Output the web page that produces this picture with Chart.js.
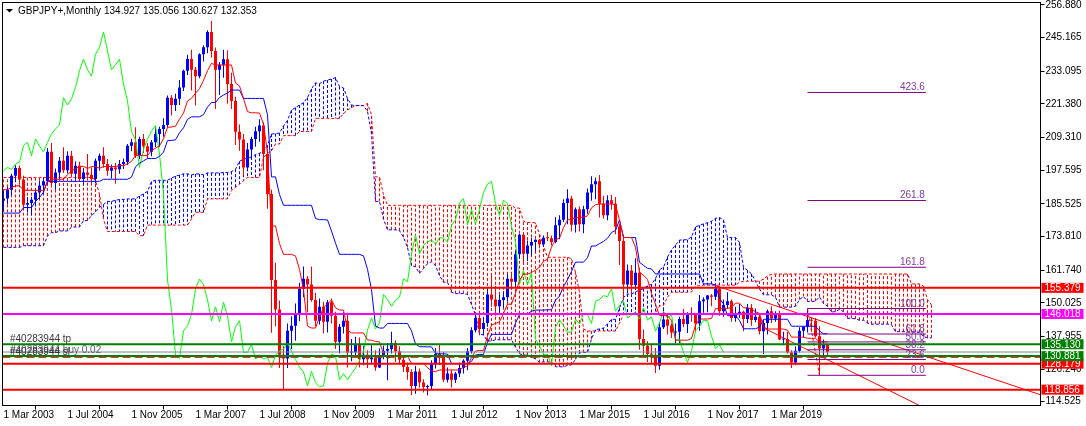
<!DOCTYPE html>
<html>
<head>
<meta charset="utf-8">
<script src="https://cdn.jsdelivr.net/npm/chart.js@4.4.1/dist/chart.umd.min.js"></script>
<style>
html, body { margin: 0; padding: 0; background: #fff; }
canvas { display: block; }
</style>
</head>
<body>
<canvas id="chart" width="1086" height="426"></canvas>
<script>
// monthly bars, index 0 = Mar 2003, last = May 2020
const opens = [
  186.6, 187.4, 190.6, 195.6, 198.4, 194.3, 185.2, 185.8, 187.0, 189.6,
  192.1, 193.6, 204.2, 193.0, 196.8, 201.0, 197.6, 202.8, 196.3, 199.2, 194.4, 196.8,
  196.0, 194.4, 201.0, 202.8, 199.8, 197.4, 198.6, 197.9, 199.8, 200.5, 206.4, 207.6,
  202.8, 208.8, 206.2, 204.2, 207.6, 210.6, 212.4, 213.8, 223.6, 221.0, 223.2, 227.3,
  233.3, 237.5, 233.6, 231.3, 239.2, 241.7, 247.2, 240.4, 233.6, 235.4, 237.4, 228.5,
  222.4, 211.4, 208.6, 198.6, 205.0, 208.8, 211.6, 213.6, 203.4, 189.1, 158.2, 147.6,
  131.4, 130.0, 140.0, 141.8, 145.8, 155.0, 158.6, 156.6, 151.0, 143.6, 148.6, 143.2,
  150.2, 145.4, 136.0, 141.4, 143.6, 132.2, 132.3, 135.0, 129.8, 131.4, 129.8, 130.4,
  126.8, 131.1, 132.8, 133.4, 135.6, 132.6, 129.6, 127.0, 125.2, 120.2, 125.4, 121.4,
  119.8, 120.2, 128.4, 131.6, 130.9, 122.4, 124.6, 122.4, 124.6, 126.6, 129.2, 132.6,
  140.2, 144.6, 140.6, 142.8, 153.0, 151.2, 148.8, 151.0, 152.0, 158.6, 157.6, 167.4,
  174.4, 167.6, 170.6, 171.8, 172.6, 171.0, 173.4, 173.2, 171.8, 177.8, 179.8, 185.8,
  187.4, 178.0, 183.6, 178.2, 183.6, 189.6, 192.6, 193.6, 185.6, 181.4, 186.8, 185.6,
  177.4, 172.2, 156.6, 161.6, 156.4, 160.8, 137.0, 134.6, 131.6, 131.4, 127.4, 141.2,
  144.0, 141.8, 139.4, 139.6, 144.2, 142.4, 146.0, 145.8, 142.6, 150.6, 151.2, 152.6,
  152.2, 155.0, 147.0, 149.2, 150.6, 144.6, 145.6, 146.8, 144.2, 148.2, 143.8, 145.0,
  139.8, 142.8, 147.0, 144.4, 145.8, 136.8, 137.0, 132.2, 128.6, 132.8, 140.0, 141.4,
  143.8, 143.6, 138.0, 133.6, 134.927
];
const highs = [
  190.3, 191.6, 196.3, 199.4, 199.3, 195.6, 188.0, 188.1, 190.4, 193.8,
  195.0, 205.6, 207.4, 198.2, 202.3, 205.8, 204.4, 204.6, 200.8, 200.6, 198.5, 203.4,
  198.6, 201.8, 203.6, 205.8, 201.6, 199.6, 200.2, 201.3, 201.8, 207.0, 208.9, 213.0,
  209.6, 210.6, 207.4, 208.4, 213.0, 213.2, 216.2, 224.4, 224.6, 225.0, 230.0, 233.6,
  239.0, 240.8, 234.6, 239.6, 242.4, 247.8, 251.1, 241.6, 236.4, 240.8, 240.6, 232.6,
  224.0, 214.0, 210.6, 207.4, 209.6, 213.2, 215.9, 214.8, 205.2, 190.6, 164.4, 150.8,
  134.4, 142.6, 145.2, 149.8, 157.2, 163.0, 159.6, 163.0, 153.6, 151.6, 150.4, 151.0,
  151.6, 146.8, 142.4, 146.6, 146.4, 137.0, 137.8, 137.6, 134.6, 133.0, 134.8, 133.0,
  133.6, 134.6, 135.6, 139.6, 136.6, 134.4, 130.6, 128.6, 126.2, 127.4, 126.4, 122.6,
  120.6, 129.4, 133.8, 135.0, 132.4, 126.8, 126.0, 125.2, 128.6, 129.8, 133.8, 141.2,
  145.8, 146.2, 145.0, 155.0, 160.6, 156.0, 153.0, 154.2, 160.4, 160.2, 168.6, 174.8,
  175.2, 172.4, 173.4, 172.8, 173.0, 174.2, 175.4, 174.2, 180.8, 181.4, 187.2, 190.8,
  188.4, 184.2, 184.6, 184.8, 191.0, 195.4, 195.0, 195.9, 188.4, 188.6, 188.8, 188.0,
  178.4, 174.4, 163.8, 163.6, 166.0, 162.6, 140.4, 136.2, 135.4, 133.8, 143.0, 148.4,
  146.2, 142.6, 142.6, 145.0, 147.8, 146.6, 148.4, 146.0, 152.8, 152.0, 152.8, 153.2,
  156.6, 155.8, 151.2, 153.8, 151.2, 148.6, 149.6, 147.2, 149.6, 149.6, 148.0, 145.6,
  143.8, 147.6, 148.8, 147.0, 147.2, 139.6, 139.6, 133.0, 134.4, 141.2, 141.6, 147.96,
  144.8, 144.6, 141.6, 136.8, 135.056
];
const lows = [
  182.9, 185.4, 188.6, 193.4, 192.6, 184.2, 182.4, 181.3, 184.6, 187.3,
  188.9, 192.6, 192.2, 190.6, 194.4, 196.6, 196.4, 195.2, 194.3, 193.6, 192.0, 194.9,
  193.0, 192.8, 197.4, 198.5, 195.6, 194.6, 192.7, 196.3, 198.0, 199.5, 204.4, 202.0,
  201.6, 203.8, 201.8, 202.6, 205.9, 206.0, 209.6, 213.0, 217.2, 218.8, 221.0, 226.0,
  231.8, 226.2, 220.8, 230.6, 236.6, 239.6, 238.0, 219.6, 224.6, 230.8, 221.4, 219.6,
  206.6, 204.6, 195.6, 197.2, 201.8, 206.0, 207.8, 197.6, 183.8, 139.3, 141.6, 126.6,
  118.9, 126.6, 133.4, 136.4, 143.4, 152.0, 146.6, 150.4, 141.6, 142.2, 139.0, 139.4,
  142.6, 133.4, 131.8, 139.0, 126.8, 129.0, 131.0, 126.8, 127.6, 126.6, 128.0, 125.6,
  126.6, 129.8, 122.2, 131.8, 128.8, 128.0, 125.2, 122.4, 116.9, 117.4, 119.6, 117.8,
  116.8, 118.8, 126.4, 127.8, 121.6, 121.4, 119.6, 121.2, 123.4, 124.6, 125.8, 131.8,
  139.4, 138.4, 138.4, 141.4, 148.6, 145.4, 146.6, 148.2, 150.4, 154.6, 156.0, 165.8,
  164.6, 165.0, 166.8, 168.6, 169.6, 170.0, 172.2, 170.6, 171.4, 172.8, 179.0, 178.2,
  175.6, 175.2, 175.6, 175.0, 182.0, 186.6, 187.2, 180.6, 180.2, 179.6, 183.4, 174.6,
  163.6, 151.0, 153.4, 152.8, 154.6, 133.2, 131.0, 128.8, 128.4, 124.8, 126.0, 140.6,
  138.6, 137.4, 135.6, 135.6, 141.2, 139.2, 143.2, 139.4, 140.0, 146.4, 146.6, 148.8,
  151.0, 145.4, 145.0, 148.0, 143.2, 143.2, 144.6, 139.8, 142.8, 141.8, 143.0, 138.6,
  131.6, 138.6, 142.8, 143.2, 136.6, 134.8, 131.8, 126.6, 127.6, 132.2, 137.6, 139.4,
  139.6, 137.6, 124.0, 130.8, 130.627
];
const closes = [
  187.4, 190.6, 195.6, 198.4, 194.3, 185.2, 185.8, 187.0, 189.6, 192.1,
  193.6, 204.2, 193.0, 196.8, 201.0, 197.6, 202.8, 196.3, 199.2, 194.4, 196.8, 196.0,
  194.4, 201.0, 202.8, 199.8, 197.4, 198.6, 197.9, 199.8, 200.5, 206.4, 207.6, 202.8,
  208.8, 206.2, 204.2, 207.6, 210.6, 212.4, 213.8, 223.6, 221.0, 223.2, 227.3, 233.3,
  237.5, 233.6, 231.3, 239.2, 241.7, 247.2, 240.4, 233.6, 235.4, 237.4, 228.5, 222.4,
  211.4, 208.6, 198.6, 205.0, 208.8, 211.6, 213.6, 203.4, 189.1, 158.2, 147.6, 131.4,
  130.0, 140.0, 141.8, 145.8, 155.0, 158.6, 156.6, 151.0, 143.6, 148.6, 143.2, 150.2,
  145.4, 136.0, 141.4, 143.6, 132.2, 132.3, 135.0, 129.8, 131.4, 129.8, 130.4, 126.8,
  131.1, 132.8, 133.4, 135.6, 132.6, 129.6, 127.0, 125.2, 120.2, 125.4, 121.4, 119.8,
  120.2, 128.4, 131.6, 130.9, 122.4, 124.6, 122.4, 124.6, 126.6, 129.2, 132.6, 140.2,
  144.6, 140.6, 142.8, 153.0, 151.2, 148.8, 151.0, 152.0, 158.6, 157.6, 167.4, 174.4,
  167.6, 170.6, 171.8, 172.6, 171.0, 173.4, 173.2, 171.8, 177.8, 179.8, 185.8, 187.4,
  178.0, 183.6, 178.2, 183.6, 189.6, 192.6, 193.6, 185.6, 181.4, 186.8, 185.6, 177.4,
  172.2, 156.6, 161.6, 156.4, 160.8, 137.0, 134.6, 131.6, 131.4, 127.4, 141.2, 144.0,
  141.8, 139.4, 139.6, 144.2, 142.4, 146.0, 145.8, 142.6, 150.6, 151.2, 152.6, 152.2,
  155.0, 147.0, 149.2, 150.6, 144.6, 145.6, 146.8, 144.2, 148.2, 143.8, 145.0, 139.8,
  142.8, 147.0, 144.4, 145.8, 136.8, 137.0, 132.2, 128.6, 132.8, 140.0, 141.4, 143.8,
  143.6, 138.0, 133.6, 134.927, 132.353
];

const tenkanEarly = [190.6, 190.6, 191.4, 192.0, 192.0, 190.4, 190.4, 190.4];
const kijunEarly = [182.2, 182.2, 182.2, 182.2, 182.2, 184.2, 184.2, 184.2, 186.4, 187.8,
  189.7, 193.6, 193.6, 193.6, 193.6, 193.6, 193.6, 193.6, 193.6, 193.6, 193.6, 193.6,
  193.6, 193.6, 193.6];
const spanAEarly = [169.9, 169.9, 169.9, 169.9, 169.9, 170.5, 170.5, 170.5, 170.5, 170.5,
  170.5, 174.0, 175.2, 175.2, 175.8, 175.8, 175.8, 177.2, 177.2, 177.2, 179.5, 179.5,
  181.3, 182.6, 184.3, 185.3];
const spanBEarly = [195.0, 195.0, 195.0, 195.0, 195.0, 195.0, 195.0, 195.0, 195.0, 195.0,
  195.0, 195.0, 195.0, 195.0, 195.0, 195.0, 195.0, 195.0, 195.0, 195.0, 195.0, 195.0,
  195.0, 194.0, 189.0, 180.0, 175.6, 175.6, 175.6, 175.6, 175.6, 175.6, 175.6, 175.6,
  174.1, 174.1, 177.9, 177.9, 177.9, 177.9, 177.9, 177.9, 177.9, 177.9, 177.9, 177.9,
  177.9, 180.1, 182.5, 182.5, 182.5, 187.3, 187.3, 187.3, 187.3, 187.3, 187.3, 190.3,
  191.5, 192.6, 193.8, 195.0, 195.0, 195.0, 195.0, 202.2, 203.6, 204.6, 207.0, 207.0,
  210.0, 210.0, 210.0, 210.0, 211.5, 211.5, 211.5, 211.5];

const yTicks = [256.880, 245.165, 233.095, 221.380, 209.310, 197.595, 185.525, 173.810,
  161.740, 150.025, 137.955, 126.240, 114.525];
const xTickIdx = [0, 16, 32, 48, 64, 80, 96, 112, 128, 144, 160, 176, 192];
const xTickLabels = ['1 Mar 2003', '1 Jul 2004', '1 Nov 2005', '1 Mar 2007', '1 Jul 2008',
  '1 Nov 2009', '1 Mar 2011', '1 Jul 2012', '1 Nov 2013', '1 Mar 2015', '1 Jul 2016',
  '1 Nov 2017', '1 Mar 2019'];

const hLevels = [118.856, 128.179, 130.881, 135.130, 146.018, 155.379];
const hColors = ['#ff0000', '#ff0000', '#008000', '#008000', '#ff00ff', '#ff0000'];
const bidPrice = 132.353;
const slPrice = 130.45;

const fibRatios = [0, 0.236, 0.382, 0.5, 0.618, 1, 1.618, 2.618, 4.236];
const fibLabels = ['0.0', '23.6', '38.2', '50.0', '61.8', '100.0', '161.8', '261.8', '423.6'];
const fibX = [201, 204];
const fibY = [147.96, 124.0];
const fibEndX = 230.6;

const trendA = [[178, 156.2], [259.25, 117.0]];
const trendB = [[190, 141.0], [232, 111.0]];

const titleText = 'GBPJPY+,Monthly';
const titleOhlc = '134.927 135.056 130.627 132.353';

const X_MIN = -0.25, X_MAX = 259.25;
const BULL = '#0000ff', BEAR = '#ff0000';

// ---- Ichimoku (9, 26, 52) from the bars ----
function midHL(b, n) {
  let hh = -Infinity, ll = Infinity;
  for (let k = Math.max(0, b - n + 1); k <= b; k++) {
    hh = Math.max(hh, highs[k]);
    ll = Math.min(ll, lows[k]);
  }
  return (hh + ll) / 2;
}
const nBars = closes.length;
const tenkan = closes.map((_, b) => b < tenkanEarly.length ? tenkanEarly[b] : midHL(b, 9));
const kijun = closes.map((_, b) => b < kijunEarly.length ? kijunEarly[b] : midHL(b, 26));
const spanA = [], spanB = [];
for (let j = 0; j < nBars + 26; j++) {
  spanA.push(j < 26 ? spanAEarly[j] : (tenkan[j - 26] + kijun[j - 26]) / 2);
  spanB.push(j < spanBEarly.length ? spanBEarly[j] : midHL(j - 26, 52));
}

const blueHatch = [], redHatch = [];
spanA.forEach((a, j) => {
  const b = spanB[j];
  const target = a >= b ? blueHatch : redHatch;
  target.push({x: j, y: a}, {x: j, y: b}, {x: j, y: null});
});

function lineDs(data, color, extra) {
  return Object.assign({
    type: 'line', data: data, borderColor: color, borderWidth: 1,
    pointRadius: 0, fill: false, tension: 0, spanGaps: false,
    borderCapStyle: 'butt'
  }, extra);
}
function flat(v) { return [{x: X_MIN, y: v}, {x: X_MAX, y: v}]; }

const datasets = [];
hLevels.forEach((v, k) => datasets.push(lineDs(flat(v), hColors[k], {borderWidth: 2, order: 1})));
datasets.push(lineDs(flat(bidPrice), '#778899', {order: 2}));
datasets.push(lineDs(flat(slPrice), '#ff0000', {order: 2, borderDash: [8, 4]}));

fibRatios.forEach(r => {
  const v = fibY[1] + r * (fibY[0] - fibY[1]);
  datasets.push(lineDs([{x: fibX[0], y: v}, {x: fibEndX, y: v}], '#800080', {order: 3}));
});
datasets.push(lineDs([{x: fibX[0], y: fibY[0]}, {x: fibX[1], y: fibY[1]}], '#ff0000', {order: 3, borderDash: [3, 2]}));
datasets.push(lineDs(trendA.map(p => ({x: p[0], y: p[1]})), '#ff0000', {order: 3}));
datasets.push(lineDs(trendB.map(p => ({x: p[0], y: p[1]})), '#ff0000', {order: 3}));

datasets.push(lineDs(tenkan.map((v, i) => ({x: i, y: v})), '#ff0000', {order: 4}));
datasets.push(lineDs(kijun.map((v, i) => ({x: i, y: v})), '#0000ff', {order: 4}));
datasets.push(lineDs(closes.slice(26).map((v, i) => ({x: i, y: v})), '#00ff00', {order: 4}));

const candleColors = closes.map((c, i) => c >= opens[i] ? BULL : BEAR);
datasets.push({
  type: 'bar', order: 5, grouped: false, barThickness: 3, minBarLength: 1,
  inflateAmount: 0, borderWidth: 0, backgroundColor: candleColors,
  data: closes.map((c, i) => ({x: i, y: [opens[i], c]}))
});
datasets.push({
  type: 'bar', order: 6, grouped: false, barThickness: 1,
  inflateAmount: 0, borderWidth: 0, backgroundColor: candleColors,
  data: closes.map((c, i) => ({x: i, y: [lows[i], highs[i]]}))
});

datasets.push(lineDs(spanA.map((v, j) => ({x: j, y: v})), '#0000ff', {order: 7, borderDash: [3, 2]}));
datasets.push(lineDs(spanB.map((v, j) => ({x: j, y: v})), '#ff0000', {order: 7, borderDash: [3, 2]}));
datasets.push(lineDs(blueHatch, '#0000ff', {order: 8, borderDash: [3, 2]}));
datasets.push(lineDs(redHatch, '#ff0000', {order: 8, borderDash: [3, 2]}));

const FONT = '10px "Liberation Sans", Arial, sans-serif';

const overlay = {
  id: 'overlay',
  afterDraw(chart) {
    const ctx = chart.ctx;
    const a = chart.chartArea;
    const sx = chart.scales.x, sy = chart.scales.y;
    ctx.save();
    ctx.strokeStyle = '#000';
    ctx.lineWidth = 1;
    ctx.strokeRect(a.left, a.top, a.right - a.left, a.bottom - a.top);

    ctx.font = FONT;
    ctx.textBaseline = 'alphabetic';
    // title
    ctx.fillStyle = '#000';
    ctx.beginPath();
    ctx.moveTo(6, 9); ctx.lineTo(13, 9); ctx.lineTo(9.5, 12.5); ctx.closePath();
    ctx.fill();
    ctx.textAlign = 'left';
    ctx.fillText(titleText, 18, 14);
    ctx.fillText(titleOhlc, 104, 14);

    // order labels
    ctx.fillStyle = '#383838';
    ctx.fillText('#40283944 tp', 10, 342);
    ctx.fillStyle = '#5a5a70';
    ctx.fillText('#40283944 buy 0.02', 10, 353);
    ctx.fillStyle = '#303030';
    ctx.fillText('#40283944 sl', 10, 355);

    // fibo level labels
    ctx.fillStyle = '#8040a0';
    ctx.textAlign = 'right';
    const fx = sx.getPixelForValue(fibEndX) - 1;
    fibRatios.forEach((r, k) => {
      const v = fibY[1] + r * (fibY[0] - fibY[1]);
      ctx.fillText(fibLabels[k], fx, sy.getPixelForValue(v) - 2);
    });

    // price boxes on the axis
    ctx.textAlign = 'left';
    ctx.textBaseline = 'middle';
    hLevels.forEach((v, k) => {
      const y = sy.getPixelForValue(v);
      ctx.fillStyle = hColors[k];
      ctx.fillRect(a.right + 1, y - 5, 42, 10);
      ctx.fillStyle = '#fff';
      ctx.fillText(v.toFixed(3), a.right + 4, y + 0.5);
    });
    ctx.restore();
  }
};

Chart.defaults.font.family = '"Liberation Sans", Arial, sans-serif';
Chart.defaults.font.size = 10;
Chart.defaults.color = '#000';

new Chart(document.getElementById('chart'), {
  type: 'bar',
  data: {datasets: datasets},
  options: {
    responsive: false,
    animation: false,
    events: [],
    layout: {padding: {left: 2.5, top: 2.5, right: 0, bottom: 0}},
    plugins: {legend: {display: false}, tooltip: {enabled: false}, title: {display: false}},
    scales: {
      x: {
        type: 'linear', position: 'bottom', min: X_MIN, max: X_MAX, offset: false,
        grid: {drawOnChartArea: false, drawTicks: true, tickLength: 4, color: '#000'},
        border: {display: true, color: '#000'},
        ticks: {
          autoSkip: false, maxRotation: 0, minRotation: 0, align: 'start', padding: 0,
          callback: v => xTickLabels[xTickIdx.indexOf(v)]
        },
        afterBuildTicks: s => { s.ticks = xTickIdx.map(v => ({value: v})); },
        afterFit: s => { s.height = 20.5; s.paddingLeft = 0; s.paddingRight = 0; }
      },
      y: {
        type: 'linear', position: 'right', min: 113.16, max: 257.777,
        grid: {drawOnChartArea: false, drawTicks: true, tickLength: 4, color: '#000'},
        border: {display: true, color: '#000'},
        ticks: {autoSkip: false, padding: 1, callback: v => Number(v).toFixed(3)},
        afterBuildTicks: s => { s.ticks = yTicks.map(v => ({value: v})); },
        afterFit: s => { s.width = 45.5; s.paddingTop = 0; s.paddingBottom = 0; }
      }
    }
  },
  plugins: [overlay]
});
</script>
</body>
</html>
